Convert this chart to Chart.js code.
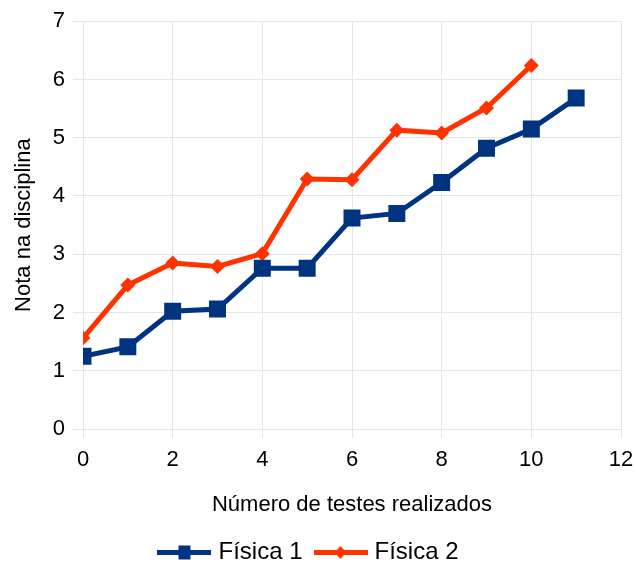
<!DOCTYPE html>
<html>
<head>
<meta charset="utf-8">
<script src="https://cdn.jsdelivr.net/npm/chart.js@4"></script>
<style>
html,body{margin:0;padding:0;background:#fff;}
#wrap{width:636px;height:562px;}
</style>
</head>
<body>
<div id="wrap"><canvas id="c" width="636" height="562"></canvas></div>
<script>
const testNumbers1 = [0,1,2,3,4,5,6,7,8,9,10,11];
const fisica1 = [1.25,1.41,2.02,2.06,2.76,2.76,3.62,3.70,4.23,4.82,5.15,5.68];
const testNumbers2 = [0,1,2,3,4,5,6,7,8,9,10];
const fisica2 = [1.56,2.47,2.85,2.79,3.01,4.29,4.28,5.13,5.08,5.51,6.24];
const seriesNames = ['Física 1','Física 2'];
const xTitle = 'Número de testes realizados';
const yTitle = 'Nota na disciplina';

const C1 = '#003380', C2 = '#ff3300';
const FONT = 'Liberation Sans, Arial, sans-serif';

function legendIcon(color, kind){
  const cv = document.createElement('canvas');
  cv.width = 54; cv.height = 18;
  const g = cv.getContext('2d');
  g.fillStyle = color;
  g.fillRect(0, 7, 54, 5);
  if(kind==='square'){ g.fillRect(21, 2.5, 12, 14); }
  else { g.beginPath(); g.moveTo(27,3); g.lineTo(33,9.5); g.lineTo(27,16); g.lineTo(21,9.5); g.closePath(); g.fill(); }
  return cv;
}
const icon1 = legendIcon(C1,'square');
const icon2 = legendIcon(C2,'diamond');

new Chart(document.getElementById('c'), {
  type: 'line',
  data: {
    datasets: [
      { label: seriesNames[0], data: testNumbers1.map((x,i)=>({x, y: fisica1[i]})),
        borderColor: C1, backgroundColor: C1, borderWidth: 5, pointStyle: 'rect',
        pointRadius: 12, pointHoverRadius: 12, pointBorderWidth: 0, tension: 0 },
      { label: seriesNames[1], data: testNumbers2.map((x,i)=>({x, y: fisica2[i]})),
        borderColor: C2, backgroundColor: C2, borderWidth: 5, pointStyle: 'rectRot',
        pointRadius: 7.5, pointHoverRadius: 7.5, pointBorderWidth: 0, tension: 0 }
    ]
  },
  options: {
    responsive: false,
    animation: false,
    devicePixelRatio: 1,
    layout: { padding: { top: 21, right: 15, left: 0, bottom: -12 } },
    plugins: {
      tooltip: { enabled: false },
      legend: {
        position: 'bottom',
        labels: {
          usePointStyle: true,
          pointStyleWidth: 44,
          color: '#000',
          padding: 16,
          font: { family: FONT, size: 24 },
          generateLabels: (chart) => chart.data.datasets.map((d,i)=>({
            text: d.label, pointStyle: i===0?icon1:icon2, fillStyle: d.borderColor,
            strokeStyle: d.borderColor, lineWidth: 0, hidden: false, datasetIndex: i, fontColor: '#000'
          }))
        }
      }
    },
    scales: {
      x: {
        type: 'linear', min: 0, max: 12,
        ticks: { stepSize: 2, color: '#000', padding: 9, font: { family: FONT, size: 22 } },
        grid: { color: '#e6e6e6', tickLength: 9, lineWidth: 1 },
        border: { display: false },
        title: { display: true, text: xTitle, color: '#000', font: { family: FONT, size: 22 }, padding: { top: 0, bottom: 6 } },
        afterFit: (s) => { s.height = 95; s.paddingRight = 0; s.paddingLeft = 0; }
      },
      y: {
        min: 0, max: 7,
        ticks: { stepSize: 1, color: '#000', padding: 8, font: { family: FONT, size: 22 } },
        grid: { color: '#e6e6e6', tickLength: 10, lineWidth: 1 },
        border: { display: false },
        title: { display: true, text: yTitle, color: '#000', font: { family: FONT, size: 22 }, padding: { top: 11, bottom: 0 } },
        afterFit: (s) => { s.width = 83; }
      }
    }
  }
});
</script>
</body>
</html>
